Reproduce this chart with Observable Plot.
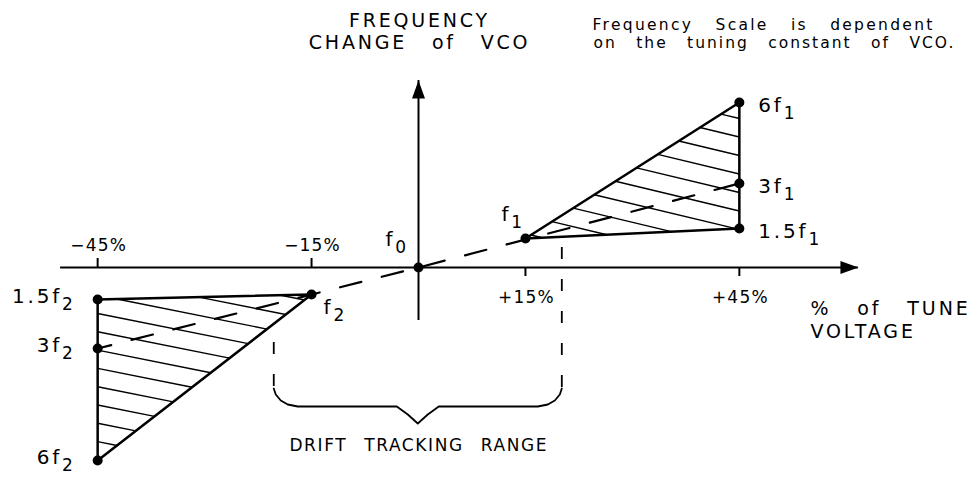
<!DOCTYPE html>
<html><head><meta charset="utf-8">
<script src="https://cdn.jsdelivr.net/npm/d3@7"></script>
<script src="https://cdn.jsdelivr.net/npm/@observablehq/plot@0.6"></script>
<style>html,body{margin:0;padding:0;background:#fff;overflow:hidden}</style>
</head><body><div id="chart"></div>
<script>
// ---------------- data ----------------
const tuneTicks = [-45, -15, 15, 45];
const tickLabels = ["\u221245%", "\u221215%", "+15%", "+45%"];
const pointNames = ["f_0", "f_1", "1.5f_1", "3f_1", "6f_1", "f_2", "1.5f_2", "3f_2", "6f_2"];
const pointTune = [0, 15, 45, 45, 45, -15, -45, -45, -45];      // % of tune voltage
const pointFreq = [0, 29, 39, 84, 165, -27, -32, -81, -193];     // frequency change (relative units)
const upperTriangle = ["f_1", "1.5f_1", "6f_1"];
const lowerTriangle = ["f_2", "1.5f_2", "6f_2"];
const centerLine = ["3f_2", "f_0", "3f_1"];
const driftRange = [-20.3, 20.1];
const tuneAxisExtent = [-50.2, 61.7];
const freqAxisExtent = [-53, 187];
const axisTitleY = ["FREQUENCY", "CHANGE of VCO"];
const axisTitleX = ["% of TUNE", "VOLTAGE"];
const noteLines = ["Frequency Scale is dependent", "on the tuning constant of VCO."];
const rangeLabel = ["DRIFT TRACKING RANGE"];

// ---------------- layout / scales ----------------
const W = 978, H = 479;
const originX = 418, originY = 267;
const k = 7.13; // px per % of tune voltage
const xDomain = [-originX / k, (W - originX) / k];
const yDomain = [-(H - originY), originY];

const pts = pointNames.map((name, i) => ({name, x: pointTune[i], y: pointFreq[i]}));
const P = Object.fromEntries(pts.map(d => [d.name, d]));
const triUp = upperTriangle.map(n => P[n]);
const triLo = lowerTriangle.map(n => P[n]);

// hatch lines: family y = c - m*x clipped to a triangle
function hatch(tri, pxSlope, spacing, ax, ay) {
  const m = pxSlope * k;
  const c0 = ay + m * ax;
  const cs = tri.map(p => p.y + m * p.x);
  const cmin = d3.min(cs), cmax = d3.max(cs);
  const segs = [];
  for (let n = Math.ceil((cmin - c0) / spacing); c0 + n * spacing <= cmax; n++) {
    const c = c0 + n * spacing;
    const hits = [];
    for (let i = 0; i < 3; i++) {
      const a = tri[i], b = tri[(i + 1) % 3];
      const fa = a.y + m * a.x - c, fb = b.y + m * b.x - c;
      if (fa === fb) continue;
      const t = fa / (fa - fb);
      if (t >= 0 && t <= 1) hits.push({x: a.x + t * (b.x - a.x), y: a.y + t * (b.y - a.y)});
    }
    if (hits.length >= 2) {
      hits.sort((p, q) => p.x - q.x);
      const p = hits[0], q = hits[hits.length - 1];
      if (Math.hypot((q.x - p.x) * k, q.y - p.y) > 2) segs.push({x1: p.x, y1: p.y, x2: q.x, y2: q.y});
    }
  }
  return segs;
}
const hatchUp = hatch(triUp, 0.24, 18.5, 45, 149);
const hatchLo = hatch(triLo, 0.2, 18.3, -45, -46);

// brace under the drift tracking range
const braceTop = -121, braceDepth = 18, braceTip = 35;
function brace([a, b]) {
  const corner = [[0, 0], [2, 6], [7, 12], [14, 16], [24, 18]];
  const xm = (a + b) / 2;
  const L = corner.map(([dx, dy]) => ({x: a + dx / k, y: braceTop - dy}));
  const R = corner.map(([dx, dy]) => ({x: b - dx / k, y: braceTop - dy})).reverse();
  const mid = [
    {x: xm - 21 / k, y: braceTop - braceDepth},
    {x: xm - 10 / k, y: braceTop - 26},
    {x: xm, y: braceTop - braceTip},
    {x: xm + 10 / k, y: braceTop - 26},
    {x: xm + 21 / k, y: braceTop - braceDepth}
  ];
  return [...L, ...mid, ...R];
}
const braceLine = brace(driftRange);
const guideTop = [-75, 20];

// narrow filled arrowhead with its tip at the anchor point
const arrowHead = {draw(ctx) { ctx.moveTo(0, 0); ctx.lineTo(-6.5, 18); ctx.lineTo(6.5, 18); ctx.closePath(); }};

const FONT = "'DejaVu Sans', sans-serif";
const labelOpts = {x: "x", y: "y", text: "name", fontSize: 20, lineAnchor: "middle", ariaDescription: "ptlabel"};

const plot = Plot.plot({
  width: W, height: H,
  margin: 0,
  x: {domain: xDomain, axis: null},
  y: {domain: yDomain, axis: null},
  style: {fontFamily: FONT, letterSpacing: "1.5px", wordSpacing: "9px", background: "#fff", color: "#000"},
  marks: [
    // hatching
    Plot.link(hatchUp, {x1: "x1", y1: "y1", x2: "x2", y2: "y2", stroke: "#000", strokeWidth: 1.4}),
    Plot.link(hatchLo, {x1: "x1", y1: "y1", x2: "x2", y2: "y2", stroke: "#000", strokeWidth: 1.4}),
    // axes
    Plot.ruleY([0], {x1: tuneAxisExtent[0], x2: tuneAxisExtent[1], stroke: "#000", strokeWidth: 2}),
    Plot.ruleX([0], {y1: freqAxisExtent[0], y2: freqAxisExtent[1], stroke: "#000", strokeWidth: 2}),
    Plot.dot([{x: tuneAxisExtent[1], y: 0}], {x: "x", y: "y", symbol: arrowHead, rotate: 90, fill: "#000", stroke: null}),
    Plot.dot([{x: 0, y: freqAxisExtent[1]}], {x: "x", y: "y", symbol: arrowHead, rotate: 0, fill: "#000", stroke: null}),
    Plot.ruleX(tuneTicks, {x: d => d, y1: 0, y2: d => d < 0 ? 9 : -9, stroke: "#000", strokeWidth: 2}),
    Plot.text(tuneTicks, {filter: d => d < 0, x: d => d, y: 0, text: (d, i) => tickLabels[i], fontSize: 17, dy: -22, dx: 1, ariaDescription: "tick"}),
    Plot.text(tuneTicks, {filter: d => d > 0, x: d => d, y: 0, text: (d, i) => tickLabels[i], fontSize: 17, dy: 30, dx: 1, ariaDescription: "tick"}),
    // triangles
    Plot.line([...triUp, triUp[0]], {x: "x", y: "y", stroke: "#000", strokeWidth: 2.5, strokeLinejoin: "round"}),
    Plot.line([...triLo, triLo[0]], {x: "x", y: "y", stroke: "#000", strokeWidth: 2.5, strokeLinejoin: "round"}),
    // dashed centre line
    Plot.line(centerLine.map(n => P[n]), {x: "x", y: "y", stroke: "#000", strokeWidth: 2.2, strokeDasharray: "22,21", strokeDashoffset: 8}),
    // drift tracking range guides + brace
    Plot.ruleX(driftRange, {x: d => d, y1: (d, i) => guideTop[i], y2: braceTop, stroke: "#000", strokeWidth: 1.8, strokeDasharray: "12,20"}),
    Plot.line(braceLine, {x: "x", y: "y", stroke: "#000", strokeWidth: 1.8, strokeLinejoin: "round"}),
    Plot.text(rangeLabel, {x: (driftRange[0] + driftRange[1]) / 2, y: braceTop - braceTip, text: d => d, fontSize: 17, dy: 22, dx: 1, ariaDescription: "range"}),
    // points
    Plot.dot(pts, {x: "x", y: "y", r: 5, fill: "#000", stroke: null}),
    // point labels
    Plot.text(pts, {...labelOpts, filter: d => ["6f_1", "3f_1", "1.5f_1"].includes(d.name), textAnchor: "start", dx: 19, dy: 3}),
    Plot.text(pts, {...labelOpts, filter: d => ["6f_2", "3f_2", "1.5f_2"].includes(d.name), textAnchor: "end", dx: -22, dy: -3}),
    Plot.text(pts, {...labelOpts, filter: d => d.name === "f_1", textAnchor: "start", dx: -24, dy: -24}),
    Plot.text(pts, {...labelOpts, filter: d => d.name === "f_0", textAnchor: "start", dx: -33, dy: -28}),
    Plot.text(pts, {...labelOpts, filter: d => d.name === "f_2", textAnchor: "start", dx: 12, dy: 13}),
    // axis titles and note
    Plot.text([axisTitleY.join("\n")], {x: 0, y: freqAxisExtent[1], text: d => d, fontSize: 19, lineHeight: 1.17, lineAnchor: "middle", dy: -50, dx: 1, ariaDescription: "ytitle"}),
    Plot.text([axisTitleX.join("\n")], {x: tuneAxisExtent[1], y: 0, text: d => d, fontSize: 19, lineHeight: 1.2, lineAnchor: "middle", textAnchor: "start", dx: -48, dy: 52, ariaDescription: "xtitle"}),
    Plot.text([noteLines[0]], {frameAnchor: "top-left", text: d => d, fontSize: 15.5, lineAnchor: "top", textAnchor: "start", dx: 592, dy: 18, ariaDescription: "note1"}),
    Plot.text([noteLines[1]], {frameAnchor: "top-left", text: d => d, fontSize: 15.5, lineAnchor: "top", textAnchor: "start", dx: 593, dy: 36.6, ariaDescription: "note2"})
  ]
});

// per-group letter / word spacing
const spacing = {
  ytitle: ["2.8px", "16px"],
  xtitle: ["2.9px", "17px"],
  note1: ["2.3px", "15px"],
  note2: ["2px", "12.5px"],
  tick: ["1.2px", "0px"],
  ptlabel: ["2.8px", "0px"],
  range: ["1.6px", "10px"]
};
for (const [key, [ls, ws]] of Object.entries(spacing)) {
  d3.select(plot).selectAll(`g[aria-description="${key}"]`).style("letter-spacing", ls).style("word-spacing", ws);
}

// subscripts: "6f_1" -> 6f with lowered 1
d3.select(plot).selectAll("text").each(function () {
  const el = this;
  if (el.childElementCount === 0 && el.textContent.includes("_")) {
    const [base, sub] = el.textContent.split("_");
    el.textContent = base;
    d3.select(el).append("tspan").attr("dy", 7).attr("font-size", "0.85em").text(sub);
  }
});
document.getElementById("chart").appendChild(plot);
</script>
</body></html>
